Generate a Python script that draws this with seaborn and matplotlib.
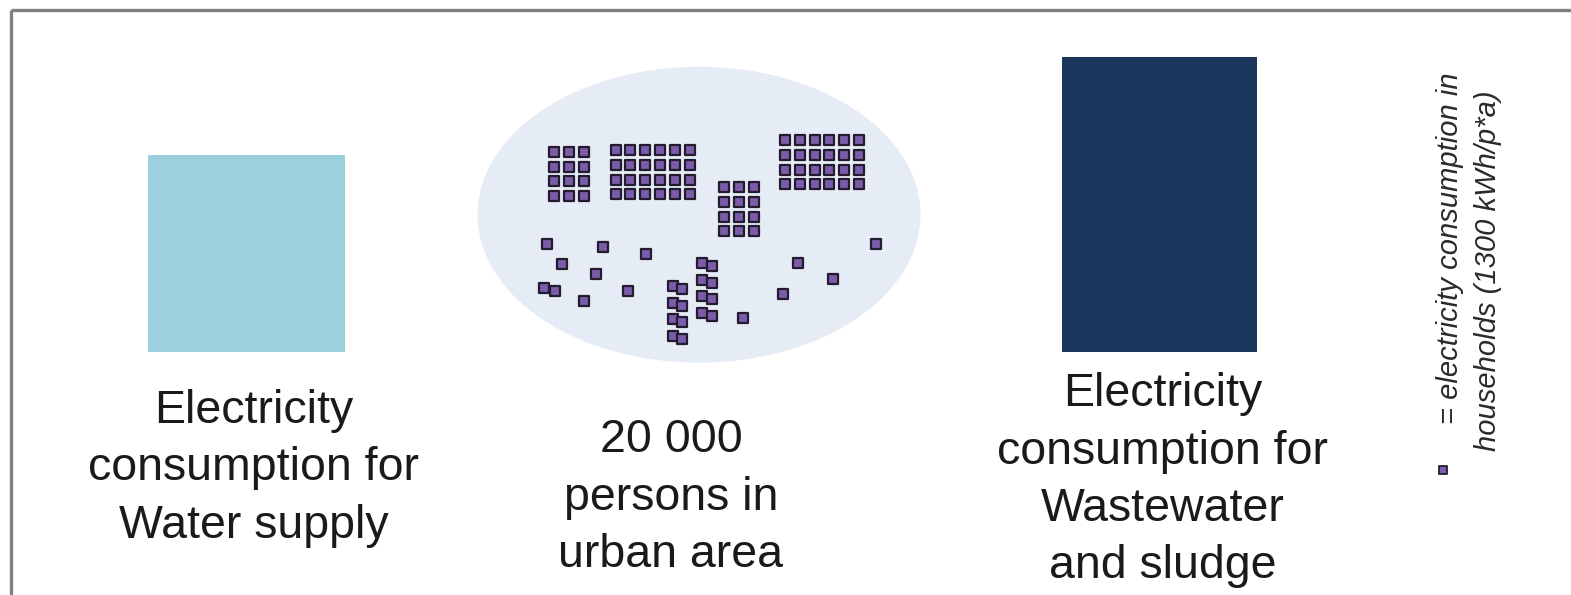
import matplotlib
matplotlib.use("Agg")
import matplotlib.pyplot as plt
from matplotlib.patches import Ellipse
import numpy as np
import pandas as pd
import seaborn as sns

sns.set_style('white')
plt.rcParams['font.family'] = ['Liberation Sans', 'DejaVu Sans']

# bars: relative electricity use, drawn as blocks (pixel units of the picture)
bar_names = ['Water supply', 'Wastewater and sludge']
bar_values = [197, 295]
bar_widths = [197, 195]
bar_centers = [246.5, 1159.5]
bar_colors = ['#9BD0DD', '#1A365D']
baseline = 352

# household squares: blocks of (cols, rows, left x, top y)
blocks_cols = [3, 6, 3, 6]
blocks_rows = [4, 4, 4, 4]
blocks_x0 = [554.3, 615.7, 724.0, 785.0]
blocks_y0 = [151.7, 150.0, 187.0, 140.0]
block_step = 14.8

# loose household squares
loose_x = [547.3, 603.3, 645.7, 562.0, 595.7, 544.3, 554.7, 628.3, 583.7,
           876.3, 797.7, 832.7, 782.7, 743.3,
           672.7, 682.3, 672.7, 682.3, 672.7, 682.3, 672.7, 682.3,
           702.0, 712.3, 702.0, 712.3, 702.0, 712.3, 702.0, 712.3]
loose_y = [244.3, 246.7, 254.0, 263.7, 273.7, 287.7, 291.0, 291.0, 300.7,
           244.3, 263.0, 279.0, 293.7, 318.3,
           286.3, 289.3, 303.0, 306.0, 319.0, 322.0, 335.7, 338.7,
           263.0, 266.3, 279.7, 282.7, 296.3, 299.3, 313.0, 316.0]

labels_left = ['Electricity', 'consumption for', 'Water supply']
labels_mid = ['20 000', 'persons in', 'urban area']
labels_right = ['Electricity', 'consumption for', 'Wastewater', 'and sludge']
legend_lines = ['= electricity consumption in', 'households (1300 kWh/p*a)']

# build the squares table
xs, ys = [], []
for c, r, x0, y0 in zip(blocks_cols, blocks_rows, blocks_x0, blocks_y0):
    for i in range(r):
        for j in range(c):
            xs.append(x0 + j * block_step)
            ys.append(y0 + i * block_step)
xs += loose_x
ys += loose_y
df = pd.DataFrame({'x': xs, 'y': ys})

fig = plt.figure(figsize=(15.71, 5.95), dpi=100)
ax = fig.add_axes([0, 0, 1, 1])
ax.set_xlim(0, 1571)
ax.set_ylim(595, 0)
ax.axis('off')

# frame (top and left only)
ax.plot([11.5, 1571], [9.5, 9.5], color='#808080', lw=2.4, solid_capstyle='butt')
ax.plot([11.5, 11.5], [9.5, 595], color='#808080', lw=2.4, solid_capstyle='butt')

# bars
ax.bar(bar_centers, [-v for v in bar_values], width=bar_widths, bottom=baseline,
       color=bar_colors, linewidth=0)

# city ellipse
ax.add_patch(Ellipse((699, 214.7), 443, 296, facecolor='#E6ECF6', edgecolor='none', zorder=0.5))

sns.scatterplot(data=df, x='x', y='y', marker='s', s=48, color='#7B5CA8',
                edgecolor='#221C2E', linewidth=1.6, ax=ax, zorder=3, legend=False)
ax.set_xlabel('')
ax.set_ylabel('')
ax.axis('off')

pitch = 57.5
txt = dict(fontsize=33.5, color='#1a1a1a', ha='center', va='baseline')
for k, s in enumerate(labels_left):
    ax.text(253.5, 423 + k * pitch, s, **txt)
for k, s in enumerate(labels_mid):
    ax.text(671, 452 + k * pitch, s, **txt)
for k, s in enumerate(labels_right):
    ax.text(1163, 406 + k * pitch, s, **txt)

# legend
ax.scatter([1443], [470], marker='s', s=34, color='#7B5CA8', edgecolor='#221C2E', linewidth=1.3)
leg = dict(fontsize=21, color='#2a2a2a', style='italic', rotation=90,
           rotation_mode='anchor', ha='left', va='center')
ax.text(1450, 424, legend_lines[0], **leg)
ax.text(1488, 451, legend_lines[1], **leg)

fig.savefig('out.png', dpi=100)
